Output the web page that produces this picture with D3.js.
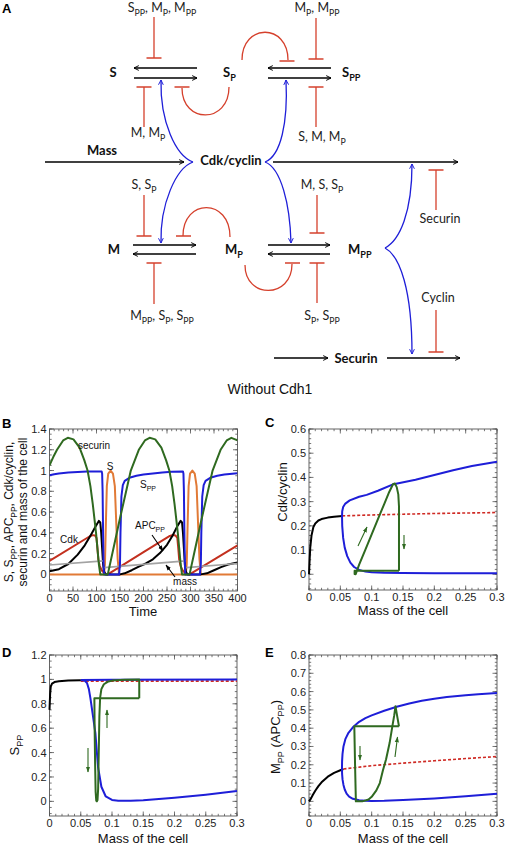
<!DOCTYPE html>
<html><head><meta charset="utf-8">
<script src="https://cdn.jsdelivr.net/npm/d3@7"></script>
<style>body{margin:0;background:#fff}svg{display:block}</style>
</head><body>
<svg id="c" width="505" height="845"></svg>
<script>
// ---------------- DATA ----------------
// Panel B (time course, 0..400)
const timeTicks = [0,50,100,150,200,250,300,350,400];
const bYTicks = [0,0.2,0.4,0.6,0.8,1,1.2,1.4];
const securin = [[0,1.05],[8,1.13],[16,1.2],[29,1.29],[39,1.315],[51,1.3],[64,1.22],[74,1.1],[81,1.0],[87,0.85],[92,0.68],[99,0.4],[105,0.1],[108,0],[124,0],[136,0.25],[148,0.5],[161,0.76],[173,1.0],[190,1.2],[203,1.29],[213,1.315],[225,1.3],[238,1.22],[248,1.1],[255,1.0],[261,0.85],[266,0.68],[273,0.4],[279,0.1],[282,0],[298,0],[310,0.25],[322,0.5],[335,0.76],[347,1.0],[364,1.2],[377,1.29],[387,1.315],[400,1.29]];
const sPP = [[0,0.955],[10,0.965],[20,0.972],[40,0.98],[60,0.985],[80,0.99],[111,0.99],[112,0.97],[113,0.8],[114,0.4],[115,0.1],[116,0],[148,0],[150,0.1],[151,0.4],[153,0.75],[156,0.86],[160,0.9],[170,0.93],[185,0.95],[200,0.962],[220,0.972],[240,0.982],[260,0.988],[284,0.99],[285,0.97],[286,0.8],[287,0.4],[288,0.1],[289,0],[320,0],[322,0.1],[323,0.4],[325,0.75],[328,0.86],[332,0.9],[342,0.93],[357,0.95],[372,0.962],[400,0.975]];
const sFree = [[0,0],[116,0],[118,0.1],[120,0.5],[122,0.85],[125,0.97],[130,1.0],[135,0.97],[139,0.85],[142,0.5],[145,0.15],[148,0],[290,0],[292,0.1],[294,0.5],[296,0.85],[299,0.97],[304,1.0],[309,0.97],[313,0.85],[316,0.5],[319,0.15],[322,0],[400,0]];
const cdk = [[0,0.13],[85,0.365],[92,0.378],[97,0.375],[100,0.35],[102,0.25],[104,0.14],[107,0.08],[111,0.04],[116,0.015],[122,0],[124,0],[200,0.215],[256,0.37],[263,0.38],[268,0.375],[272,0.35],[274,0.25],[276,0.14],[279,0.08],[283,0.04],[288,0.015],[296,0],[298,0],[400,0.28]];
const apcPP = [[0,0.03],[20,0.05],[40,0.1],[60,0.19],[75,0.28],[88,0.38],[98,0.46],[105,0.515],[108,0.5],[110,0.4],[112,0.25],[114,0.1],[116,0.03],[119,0],[150,0],[160,0.01],[175,0.04],[190,0.075],[205,0.105],[220,0.145],[235,0.205],[250,0.285],[262,0.375],[272,0.465],[279,0.515],[282,0.5],[284,0.4],[286,0.25],[288,0.1],[290,0.03],[293,0],[322,0],[335,0.01],[350,0.04],[365,0.07],[380,0.095],[400,0.115]];
const mass = [[0,0.09],[115,0.13],[115,null],[116,0.065],[290,0.13],[290,null],[291,0.065],[400,0.105]];

// Panels C, D, E (mass of the cell 0..0.3)
const massTicks = [0,0.05,0.1,0.15,0.2,0.25,0.3];
const massTickLabels = ["0","0.05","0.1","0.15","0.2","0.25","0.3"];
const cYTicks = [0,0.1,0.2,0.3,0.4,0.5,0.6];
const dYTicks = [0,0.2,0.4,0.6,0.8,1,1.2];
const eYTicks = [0,0.1,0.2,0.3,0.4,0.5,0.6,0.7,0.8];

const cBlack = [[0,0],[0.001,0.06],[0.002,0.11],[0.004,0.16],[0.007,0.195],[0.01,0.21],[0.015,0.222],[0.02,0.228],[0.03,0.234],[0.04,0.238],[0.053,0.241]];
const cUnstable = [[0.053,0.241],[0.1,0.245],[0.15,0.248],[0.2,0.251],[0.25,0.253],[0.3,0.255]];
const cBlue = [[0.3,0.004],[0.2,0.004],[0.15,0.005],[0.12,0.006],[0.1,0.008],[0.09,0.011],[0.08,0.018],[0.072,0.03],[0.066,0.048],[0.061,0.075],[0.057,0.11],[0.0545,0.15],[0.053,0.2],[0.0527,0.24],[0.053,0.26],[0.0545,0.278],[0.058,0.292],[0.065,0.305],[0.08,0.32],[0.092,0.328],[0.11,0.345],[0.135,0.372],[0.17,0.39],[0.2,0.41],[0.23,0.43],[0.26,0.447],[0.3,0.465]];
const cCycle = [[0.1436,0.014],[0.0728,0.014],[0.0728,0.001],[0.0745,0],[0.08,0.04],[0.09,0.102],[0.1,0.165],[0.11,0.228],[0.12,0.29],[0.128,0.34],[0.134,0.372],[0.137,0.375],[0.14,0.36],[0.1425,0.33],[0.1436,0.28],[0.1436,0.014]];

const dBlack = [[0,0.75],[0.001,0.88],[0.002,0.94],[0.004,0.965],[0.008,0.978],[0.015,0.985],[0.03,0.99],[0.05,0.993]];
const dUnstable = [[0.05,0.986],[0.3,0.986]];
const dBlueUpper = [[0.05,0.995],[0.1,0.998],[0.3,1.0]];
const dBlueLower = [[0.05,0.995],[0.056,0.99],[0.06,0.97],[0.063,0.92],[0.0655,0.845],[0.069,0.72],[0.0734,0.56],[0.0777,0.28],[0.083,0.12],[0.09,0.04],[0.1,0.012],[0.11,0.005],[0.13,0.005],[0.15,0.01],[0.2,0.03],[0.25,0.055],[0.3,0.085]];
const dCycle = [[0.1436,0.845],[0.0718,0.845],[0.0722,0.6],[0.073,0.3],[0.0738,0.08],[0.0748,0.005],[0.0758,0],[0.0768,0.01],[0.0778,0.1],[0.0788,0.4],[0.0798,0.7],[0.081,0.85],[0.083,0.92],[0.087,0.96],[0.093,0.98],[0.1,0.99],[0.12,0.997],[0.1436,1.0],[0.1436,0.845]];

const eBlack = [[0,0],[0.003,0.015],[0.006,0.035],[0.01,0.058],[0.015,0.083],[0.02,0.104],[0.03,0.135],[0.04,0.156],[0.05,0.17],[0.055,0.177]];
const eUnstable = [[0.055,0.177],[0.1,0.195],[0.15,0.209],[0.2,0.222],[0.25,0.234],[0.3,0.245]];
const eBlue = [[0.3,0.042],[0.25,0.028],[0.2,0.016],[0.15,0.007],[0.12,0.003],[0.1,0.002],[0.09,0.003],[0.08,0.006],[0.07,0.014],[0.064,0.026],[0.06,0.042],[0.057,0.065],[0.055,0.09],[0.0535,0.12],[0.0528,0.15],[0.0526,0.18],[0.0528,0.22],[0.0535,0.26],[0.055,0.3],[0.058,0.34],[0.063,0.375],[0.07,0.405],[0.08,0.435],[0.09,0.455],[0.1,0.47],[0.12,0.495],[0.14,0.517],[0.16,0.535],[0.18,0.55],[0.2,0.561],[0.22,0.57],[0.25,0.58],[0.27,0.586],[0.3,0.592]];
const eCycle = [[0.1436,0.41],[0.0723,0.41],[0.0735,0.2],[0.0748,0],[0.085,0],[0.095,0.01],[0.1,0.025],[0.1075,0.06],[0.113,0.1],[0.118,0.17],[0.123,0.23],[0.1287,0.32],[0.133,0.41],[0.136,0.47],[0.138,0.52],[0.1405,0.47],[0.1436,0.41]];

// Diagram (panel A)
const boldNodes = [["S",113,77,"middle"],["S_{P}",223,77,"start"],["S_{PP}",342,77,"start"],["Mass",102,155,"middle"],["Cdk/cyclin",231,165,"middle"],["M",114,254,"middle"],["M_{P}",225,254,"start"],["M_{PP}",348,254,"start"],["Securin",356,363,"middle"]];
const smallLabels = [["S_{PP}, M_{P}, M_{PP}",162,12],["M_{P}, M_{PP}",317,12],["M, M_{P}",148,137],["S, M, M_{P}",322,141],["S, S_{P}",144,189],["M, S, S_{P}",322,189],["Securin",440,223],["M_{PP}, S_{P}, S_{PP}",162,320],["S_{P}, S_{PP}",322,320],["Cyclin",438,302]];
const inhibitors = [[154,58,17],[144,87,127],[316,59,18],[316,87,127],[436,170,210],[144,236,195],[317,233,195],[154,263,304],[317,263,303],[436,352,310]];
const blackArrows = [[197,68,134,68],[134,78,197,78],[331,68,268,68],[268,78,331,78],[45,162,184,162],[273,162,458,162],[133,245,196,245],[196,254,133,254],[268,245,330,245],[330,254,268,254],[274,358,328,358],[387,358,460,358]];

// ---------------- DRAW ----------------
const svg = d3.select("#c");
const SANS = "'Liberation Sans', Arial, Helvetica, sans-serif";
const CAL = "Lato, 'Open Sans', sans-serif";
const BLUE="#1e1ed8", GREEN="#2f6a20", RED="#cf2a24", ORANGE="#e17a36", CDK="#c3301f", GRAY="#a3a3a3", INH="#d5402c";

function rich(sel, str, size){
  const parts = str.split(/(_\{[^}]*\})/).filter(p=>p.length);
  let shift = 0; const off = size*0.3;
  parts.forEach(p=>{
    if(p.startsWith("_{")){
      sel.append("tspan").attr("font-size", size*0.7).attr("dy", off-shift).text(p.slice(2,-1));
      shift = off;
    } else {
      sel.append("tspan").attr("font-size", size).attr("dy", -shift).text(p);
      shift = 0;
    }
  });
  return sel;
}

const defs = svg.append("defs");
function chevron(id, color){
  defs.append("marker").attr("id",id).attr("viewBox","0 0 10 10").attr("refX",9).attr("refY",5)
    .attr("markerWidth",6).attr("markerHeight",6).attr("markerUnits","userSpaceOnUse").attr("orient","auto")
    .append("path").attr("d","M1,1 L9,5 L1,9").attr("fill","none").attr("stroke",color).attr("stroke-width",1.6);
}
chevron("chk","#000"); chevron("chb",BLUE);
function tri(id,color,sz){
  defs.append("marker").attr("id",id).attr("viewBox","0 0 10 10").attr("refX",9).attr("refY",5)
    .attr("markerWidth",sz).attr("markerHeight",sz).attr("markerUnits","userSpaceOnUse").attr("orient","auto")
    .append("path").attr("d","M0,1.5 L10,5 L0,8.5 Z").attr("fill",color);
}
tri("trk","#000",6); tri("trg",GREEN,6);

// Panel A
const A = svg.append("g");
A.append("text").attr("x",2).attr("y",13).attr("font-family",SANS).attr("font-weight","bold").attr("font-size",13).text("A");
A.selectAll(".ba").data(blackArrows).join("line")
  .attr("x1",d=>d[0]).attr("y1",d=>d[1]).attr("x2",d=>d[2]).attr("y2",d=>d[3])
  .attr("stroke","#000").attr("stroke-width",1.4).attr("marker-end","url(#chk)");
inhibitors.forEach(([x,yb,ye])=>{
  A.append("line").attr("x1",x).attr("x2",x).attr("y1",yb).attr("y2",ye).attr("stroke",INH).attr("stroke-width",1.3);
  A.append("line").attr("x1",x-7.5).attr("x2",x+7.5).attr("y1",yb).attr("y2",yb).attr("stroke",INH).attr("stroke-width",1.5);
});
const arcs = [["M229,87 C229,124 182,124 182,88",182,87],["M242,60 C242,23 288,23 288,60",287,61],["M230,237 C230,198 183,198 183,236",183.5,236],["M245,265 C245,299 292,299 292,264",292.5,263]];
arcs.forEach(([d,bx,by])=>{
  A.append("path").attr("d",d).attr("fill","none").attr("stroke",INH).attr("stroke-width",1.3);
  A.append("line").attr("x1",bx-7.5).attr("x2",bx+7.5).attr("y1",by).attr("y2",by).attr("stroke",INH).attr("stroke-width",1.5);
});
const blueCurves = ["M193,162 C176,156 160,122 161,80","M193,162 C176,168 160,204 161,243","M265,162 C281,156 288,122 286,80","M265,162 C281,168 290,204 291,243","M385,248 C400,240 412,212 412,164","M385,248 C400,256 412,290 412,354"];
blueCurves.forEach(d=>A.append("path").attr("d",d).attr("fill","none").attr("stroke",BLUE).attr("stroke-width",1.3).attr("marker-end","url(#chb)"));
boldNodes.forEach(([t,x,y,a])=>{
  rich(A.append("text").attr("x",x).attr("y",y).attr("text-anchor",a).attr("font-family",CAL).attr("font-weight","bold").attr("fill","#111"), t, 13);
});
smallLabels.forEach(([t,x,y])=>{
  rich(A.append("text").attr("x",x).attr("y",y).attr("text-anchor","middle").attr("font-family",CAL).attr("fill","#222"), t, 12.5);
});
svg.append("text").attr("x",270).attr("y",394).attr("text-anchor","middle").attr("font-family",SANS).attr("font-size",14).attr("fill","#111").text("Without Cdh1");

// Generic plot frame
function framePanel(o){
  const g = svg.append("g");
  const [x0,x1] = o.x.range(), [y0,y1] = o.y.range(); // y0 bottom
  g.append("rect").attr("x",x0).attr("y",y1).attr("width",x1-x0).attr("height",y0-y1).attr("fill","none").attr("stroke","#555").attr("stroke-width",0.9);
  const tk = (vals, len, horiz) => vals.forEach(v=>{
    if(horiz){ const px=o.x(v); if(px<x0-0.1||px>x1+0.1) return;
      g.append("line").attr("x1",px).attr("x2",px).attr("y1",y0).attr("y2",y0-len).attr("stroke","#555").attr("stroke-width",0.8);
      g.append("line").attr("x1",px).attr("x2",px).attr("y1",y1).attr("y2",y1+len).attr("stroke","#555").attr("stroke-width",0.8);
    } else { const py=o.y(v); if(py>y0+0.1||py<y1-0.1) return;
      g.append("line").attr("y1",py).attr("y2",py).attr("x1",x0).attr("x2",x0+len).attr("stroke","#555").attr("stroke-width",0.8);
      g.append("line").attr("y1",py).attr("y2",py).attr("x1",x1).attr("x2",x1-len).attr("stroke","#555").attr("stroke-width",0.8);
    }});
  const xd=o.x.domain(), yd=o.y.domain();
  tk(d3.range(Math.ceil(xd[0]/o.xMinor)*o.xMinor, xd[1]+1e-9, o.xMinor), 2.2, true);
  tk(o.xTicks, 4.5, true);
  tk(d3.range(Math.ceil(yd[0]/o.yMinor)*o.yMinor, yd[1]+1e-9, o.yMinor), 2.2, false);
  tk(o.yTicks, 4.5, false);
  g.selectAll(".xl").data(o.xTicks).join("text").attr("x",d=>o.x(d)).attr("y",y0+11)
    .attr("text-anchor","middle").attr("font-family",SANS).attr("font-size",11).attr("fill","#222")
    .text((d,i)=>o.xLabels? o.xLabels[i] : String(d));
  g.selectAll(".yl").data(o.yTicks).join("text").attr("x",x0-3).attr("y",d=>o.y(d)+4)
    .attr("text-anchor","end").attr("font-family",SANS).attr("font-size",11).attr("fill","#222").text(d=>String(d));
  return g;
}
function curve(g, sx, sy, data, color, w, dash){
  const line = d3.line().defined(d=>d[1]!==null).x(d=>sx(d[0])).y(d=>sy(d[1]));
  const p = g.append("path").datum(data).attr("d",line).attr("fill","none").attr("stroke",color).attr("stroke-width",w).attr("stroke-linejoin","round");
  if(dash) p.attr("stroke-dasharray",dash);
  return p;
}
function arrow(g, x1,y1,x2,y2, m, color){
  g.append("line").attr("x1",x1).attr("y1",y1).attr("x2",x2).attr("y2",y2).attr("stroke",color).attr("stroke-width",1.1).attr("marker-end",`url(#${m})`);
}

// Panel B
{
  const x = d3.scaleLinear().domain([0,400]).range([49.5,237.5]);
  const y = d3.scaleLinear().domain([-0.16,1.4]).range([591,429]);
  const g = framePanel({x,y,xTicks:timeTicks,xMinor:10,yTicks:bYTicks,yMinor:0.05});
  const c = g.append("g");
  c.append("clipPath").attr("id","clipB").append("rect").attr("x",49.5).attr("y",429).attr("width",188).attr("height",162);
  c.attr("clip-path","url(#clipB)");
  curve(c,x,y,sFree,ORANGE,2);
  curve(c,x,y,cdk,CDK,2);
  curve(c,x,y,apcPP,"#000",2);
  curve(c,x,y,mass,GRAY,1.6);
  curve(c,x,y,sPP,BLUE,2);
  curve(c,x,y,securin,GREEN,2);
  const t = (s,xx,yy)=>rich(g.append("text").attr("x",xx).attr("y",yy).attr("text-anchor","middle").attr("font-family",SANS).attr("fill","#111"),s,10);
  t("securin",94,449); t("S",110,470); t("S_{PP}",148,488); t("Cdk",69,543); t("APC_{PP}",150,529); t("mass",185,585);
  arrow(g,152,535,163,551,"trk","#000");
  arrow(g,175,577,166,565,"trk","#000");
  g.append("text").attr("x",143).attr("y",616).attr("text-anchor","middle").attr("font-family",SANS).attr("font-size",13).attr("fill","#111").text("Time");
  const yl = g.append("g").attr("transform","translate(0,512) rotate(-90)");
  rich(yl.append("text").attr("x",0).attr("y",13).attr("text-anchor","middle").attr("font-family",SANS).attr("fill","#111"),"S, S_{PP}, APC_{PP}, Cdk/cyclin,",12);
  rich(yl.append("text").attr("x",0).attr("y",27).attr("text-anchor","middle").attr("font-family",SANS).attr("fill","#111"),"securin and mass of the cell",12);
  svg.append("text").attr("x",2).attr("y",428).attr("font-family",SANS).attr("font-weight","bold").attr("font-size",13).text("B");
}
// Panel C
{
  const x = d3.scaleLinear().domain([0,0.3]).range([309,497]);
  const y = d3.scaleLinear().domain([-0.065,0.6]).range([590,429]);
  const g = framePanel({x,y,xTicks:massTicks,xLabels:massTickLabels,xMinor:0.01,yTicks:cYTicks,yMinor:0.02});
  curve(g,x,y,cBlack,"#000",2);
  curve(g,x,y,cUnstable,RED,1.6,"3,2");
  curve(g,x,y,cBlue,BLUE,2);
  curve(g,x,y,cCycle,GREEN,2);
  arrow(g,358,546,367,527,"trg",GREEN);
  arrow(g,404,535,404,549,"trg",GREEN);
  g.append("text").attr("x",403).attr("y",615).attr("text-anchor","middle").attr("font-family",SANS).attr("font-size",13).attr("fill","#111").text("Mass of the cell");
  g.append("text").attr("transform","translate(287,492) rotate(-90)").attr("text-anchor","middle").attr("font-family",SANS).attr("font-size",13).attr("fill","#111").text("Cdk/cyclin");
  svg.append("text").attr("x",265).attr("y",427).attr("font-family",SANS).attr("font-weight","bold").attr("font-size",13).text("C");
}
// Panel D
{
  const x = d3.scaleLinear().domain([0,0.3]).range([49.5,237]);
  const y = d3.scaleLinear().domain([-0.12,1.2]).range([816,655]);
  const g = framePanel({x,y,xTicks:massTicks,xLabels:massTickLabels,xMinor:0.01,yTicks:dYTicks,yMinor:0.05});
  curve(g,x,y,dUnstable,RED,1.6,"3,2");
  curve(g,x,y,dBlueUpper,BLUE,2);
  curve(g,x,y,dBlueLower,BLUE,2);
  curve(g,x,y,dBlack,"#000",2);
  curve(g,x,y,dCycle,GREEN,2);
  arrow(g,88,748,88,772,"trg",GREEN);
  arrow(g,107,728,107,710,"trg",GREEN);
  g.append("text").attr("x",143).attr("y",843).attr("text-anchor","middle").attr("font-family",SANS).attr("font-size",13).attr("fill","#111").text("Mass of the cell");
  rich(g.append("text").attr("transform","translate(19,745) rotate(-90)").attr("text-anchor","middle").attr("font-family",SANS).attr("fill","#111"),"S_{PP}",13);
  svg.append("text").attr("x",2).attr("y",657).attr("font-family",SANS).attr("font-weight","bold").attr("font-size",13).text("D");
}
// Panel E
{
  const x = d3.scaleLinear().domain([0,0.3]).range([309,497]);
  const y = d3.scaleLinear().domain([-0.08,0.8]).range([816,655]);
  const g = framePanel({x,y,xTicks:massTicks,xLabels:massTickLabels,xMinor:0.01,yTicks:eYTicks,yMinor:0.02});
  curve(g,x,y,eBlack,"#000",2);
  curve(g,x,y,eUnstable,RED,1.6,"3,2");
  curve(g,x,y,eBlue,BLUE,2);
  curve(g,x,y,eCycle,GREEN,2);
  arrow(g,360,746,360,760,"trg",GREEN);
  arrow(g,395,757,397.5,737,"trg",GREEN);
  g.append("text").attr("x",403).attr("y",843).attr("text-anchor","middle").attr("font-family",SANS).attr("font-size",13).attr("fill","#111").text("Mass of the cell");
  rich(g.append("text").attr("transform","translate(280,737) rotate(-90)").attr("text-anchor","middle").attr("font-family",SANS).attr("fill","#111"),"M_{PP} (APC_{PP})",13);
  svg.append("text").attr("x",265).attr("y",657).attr("font-family",SANS).attr("font-weight","bold").attr("font-size",13).text("E");
}
</script>
</body></html>
